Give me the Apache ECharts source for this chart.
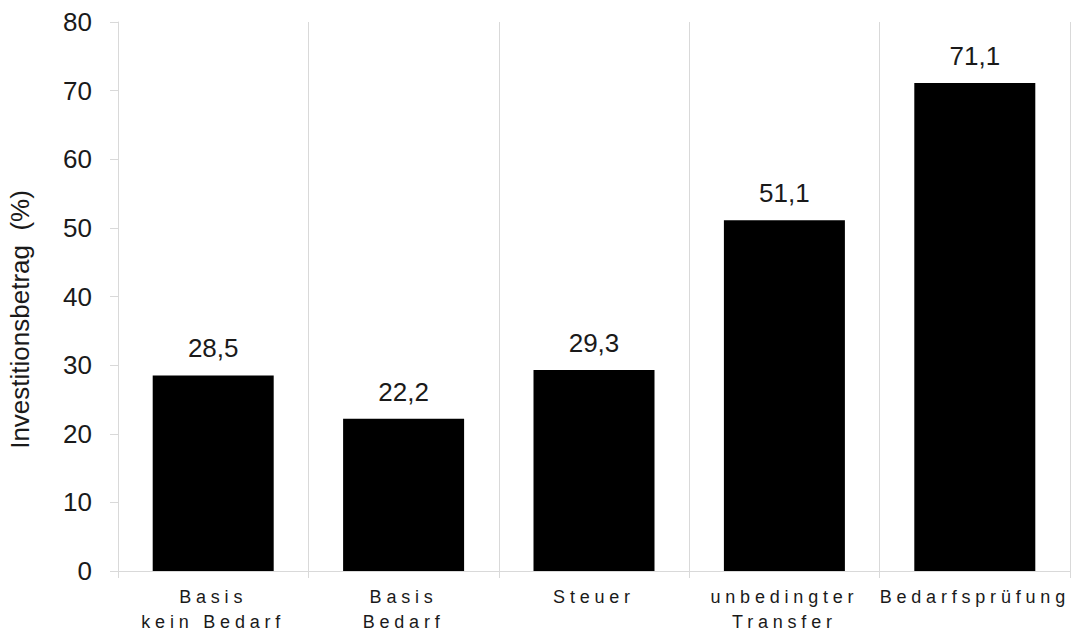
<!DOCTYPE html>
<html>
<head>
<meta charset="utf-8">
<script src="https://cdn.jsdelivr.net/npm/echarts@6/dist/echarts.min.js"></script>
<style>
  html, body { margin: 0; padding: 0; background: #ffffff; }
  #chart { width: 1075px; height: 634px; }
</style>
</head>
<body>
<div id="chart"></div>
<script>
// Kategorien (x-Achse), Werte in Prozent, Achsenbeschriftung
const categories = ['Basis\nkein Bedarf', 'Basis\nBedarf', 'Steuer', 'unbedingter\nTransfer', 'Bedarfsprüfung'];
const values = [28.5, 22.2, 29.3, 51.1, 71.1];
const yAxisName = 'Investitionsbetrag  (%)';

const FONT = '"Liberation Sans", Arial, sans-serif';
const TEXT = '#1a1a1a';
const GRID = '#d9d9d9';

const chart = echarts.init(document.getElementById('chart'), null, { renderer: 'svg' });

chart.setOption({
  animation: false,
  backgroundColor: '#ffffff',
  grid: { left: 118, right: 5, top: 22, bottom: 63, containLabel: false, outerBoundsMode: 'none' },
  xAxis: {
    type: 'category',
    data: categories,
    boundaryGap: true,
    axisLine: { show: true, lineStyle: { color: GRID, width: 1 } },
    axisTick: { show: true, length: 7, lineStyle: { color: GRID } },
    splitLine: { show: true, lineStyle: { color: GRID, width: 1 } },
    axisLabel: {
      margin: 13,
      fontFamily: FONT,
      fontSize: 18,
      lineHeight: 25,
      color: TEXT,
      interval: 0
    }
  },
  yAxis: {
    type: 'value',
    min: 0,
    max: 80,
    interval: 10,
    name: yAxisName,
    nameLocation: 'middle',
    nameGap: 85,
    nameRotate: 90,
    nameTextStyle: { fontFamily: FONT, fontSize: 26, color: TEXT, padding: [0, 46, 0, 0] },
    axisLine: { show: true, lineStyle: { color: GRID, width: 1 } },
    axisTick: { show: true, length: 8, lineStyle: { color: GRID } },
    splitLine: { show: false },
    axisLabel: { margin: 26, fontFamily: FONT, fontSize: 26, color: TEXT }
  },
  series: [{
    type: 'bar',
    data: values,
    barWidth: 121,
    itemStyle: { color: '#000000' },
    label: {
      show: true,
      position: 'top',
      distance: 14,
      fontFamily: FONT,
      fontSize: 26,
      color: TEXT,
      formatter: p => String(p.value).replace('.', ',')
    }
  }]
});

// Gesperrte Schrift für die Kategoriebeschriftungen
const spaced = new Set(categories.flatMap(c => c.split('\n')));
document.querySelectorAll('#chart svg text').forEach(t => {
  if (spaced.has(t.textContent)) {
    t.style.letterSpacing = '4.8px';
  }
});
</script>
</body>
</html>
